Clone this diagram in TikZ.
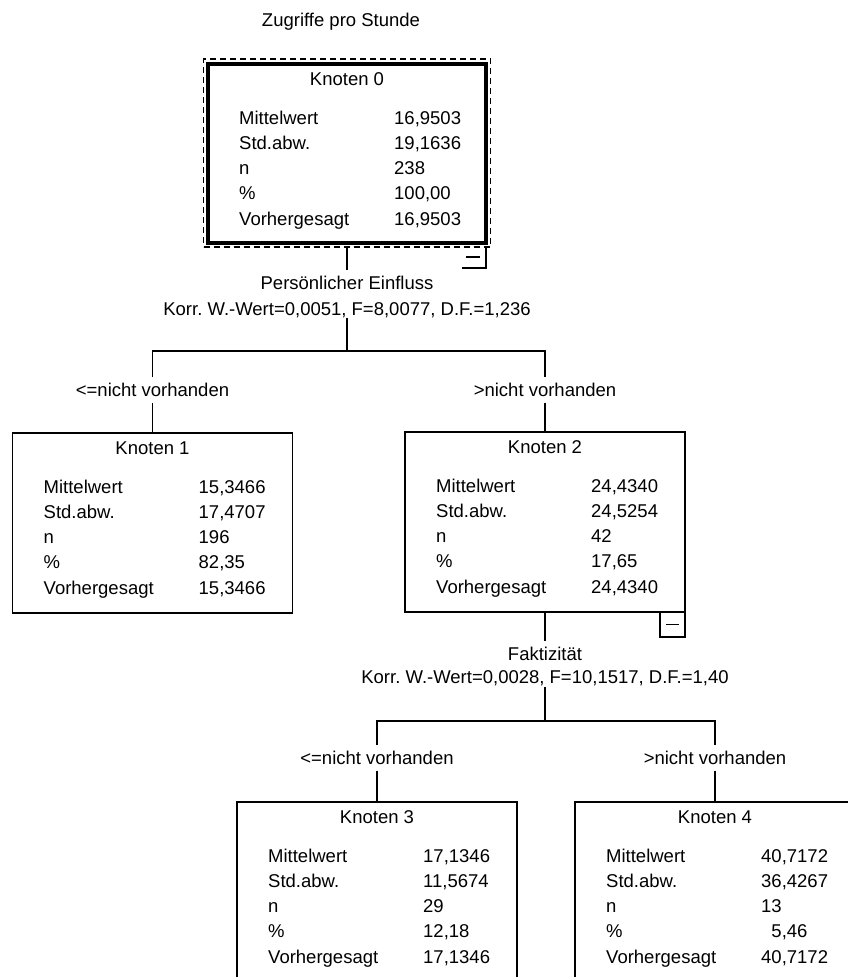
\documentclass[tikz,border=0pt]{standalone}
\usepackage{fontspec}
\setmainfont{Liberation Sans}
\frenchspacing
\newcommand{\knotenwerte}[7]{%
  \node[kopf] (#1-t) at ([shift={(0,21.5)}]#1.north) {#2};
  \node[zeile] (#1-a) at ([shift={(27,60.5)}]#1.north west) {Mittelwert};
  \node[zeile] (#1-b) at ([shift={(27,85.5)}]#1.north west) {Std.abw.};
  \node[zeile] (#1-c) at ([shift={(27,110.5)}]#1.north west) {n};
  \node[zeile] (#1-d) at ([shift={(27,135.5)}]#1.north west) {\%};
  \node[zeile] (#1-e) at ([shift={(27,161.5)}]#1.north west) {Vorhergesagt};
  \node[zeile] (#1-av) at ([shift={(182,60.5)}]#1.north west) {#3};
  \node[zeile] (#1-bv) at ([shift={(182,85.5)}]#1.north west) {#4};
  \node[zeile] (#1-cv) at ([shift={(182,110.5)}]#1.north west) {#5};
  \node[zeile] (#1-dv) at ([shift={(182,135.5)}]#1.north west) {#6};
  \node[zeile] (#1-ev) at ([shift={(182,161.5)}]#1.north west) {#7};
}
\begin{document}
\begin{tikzpicture}[x=1pt,y=-1pt,line join=miter,line width=1.7pt]
  \tikzset{every node/.style={font=\fontsize{18.5}{22}\selectfont},
    box/.style={draw,minimum width=280pt,minimum height=180pt,outer sep=0pt,inner sep=0pt},
    kopf/.style={anchor=base},
    zeile/.style={anchor=base west},
    txt/.style={inner sep=5pt},
    stat/.style={inner sep=0pt}}
  \clip (0,0) rectangle (848,977);
  \node[txt] (titel) at (341,22) {Zugriffe pro Stunde};
  % Knoten
  \node[box,line width=3.3pt,minimum width=278pt,minimum height=179pt] (k0) at (347,153.5) {};
  \node[box,dashed,dash pattern=on 6pt off 4pt,minimum width=287pt,minimum height=188pt] (k0r) at (347,153) {};
  \node[box] (k1) at (152.5,523) {};
  \node[box] (k2) at (545,522) {};
  \node[box] (k3) at (377,892) {};
  \node[box] (k4) at (715,892) {};
  \knotenwerte{k0}{Knoten 0}{16,9503}{19,1636}{238}{100,00}{16,9503}
  \knotenwerte{k1}{Knoten 1}{15,3466}{17,4707}{196}{82,35}{15,3466}
  \knotenwerte{k2}{Knoten 2}{24,4340}{24,5254}{42}{17,65}{24,4340}
  \knotenwerte{k3}{Knoten 3}{17,1346}{11,5674}{29}{12,18}{17,1346}
  \knotenwerte{k4}{Knoten 4}{40,7172}{36,4267}{13}{\phantom{0}5,46}{40,7172}
  % Minus
  \draw ([shift={(0,4)}]k0.south east) -- ++(0,21) -- ++(-24,0);
  \draw ([shift={(-20,14)}]k0.south east) -- ++(14,0);
  \node[draw,minimum size=25pt,inner sep=0pt,outer sep=0pt,anchor=north east] (m2) at (k2.south east) {};
  \draw ([xshift=-6.5pt]m2.center) -- ([xshift=6.5pt]m2.center);
  % erste Teilung
  \node[txt] (v1) at (347,283) {Persönlicher Einfluss};
  \node[stat] (s1) at (347,310) {Korr. W.-Wert=0,0051, F=8,0077, D.F.=1,236};
  \coordinate (h1) at (347,351);
  \node[txt] (l1) at (k1.north |- 0,390) {<=nicht vorhanden};
  \node[txt] (r1) at (k2.north |- 0,390) {>nicht vorhanden};
  \draw (k0r.south) -- (v1.north);
  \draw (s1.south) -- (h1);
  \draw (l1.north) |- (h1) -| (r1.north);
  \draw (l1.south) -- (k1.north);
  \draw (r1.south) -- (k2.north);
  % zweite Teilung
  \node[txt] (v2) at (545,654) {Faktizität};
  \node[stat] (s2) at (545,678) {Korr. W.-Wert=0,0028, F=10,1517, D.F.=1,40};
  \coordinate (h2) at (545,721);
  \node[txt] (l3) at (k3.north |- 0,758) {<=nicht vorhanden};
  \node[txt] (r4) at (k4.north |- 0,758) {>nicht vorhanden};
  \draw (k2.south) -- (v2.north);
  \draw (s2.south) -- (h2);
  \draw (l3.north) |- (h2) -| (r4.north);
  \draw (l3.south) -- (k3.north);
  \draw (r4.south) -- (k4.north);
\end{tikzpicture}
\end{document}
